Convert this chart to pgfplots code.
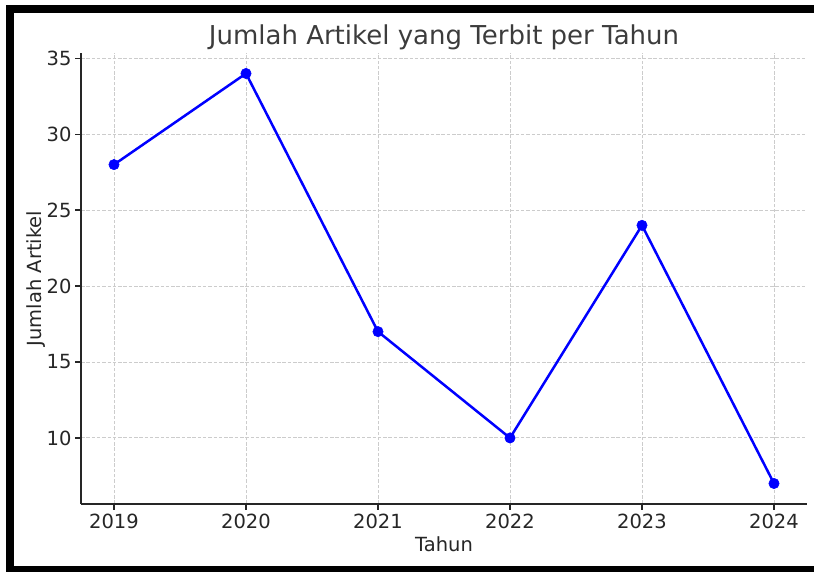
\documentclass[border=0pt]{standalone}
\usepackage{fontspec}
\setmainfont{DejaVu Sans}
\usepackage{pgfplots}
\pgfplotsset{compat=1.18}
\definecolor{txt}{gray}{0.15}
\definecolor{gridc}{gray}{0.8}
\begin{document}
\begin{tikzpicture}[x=1pt,y=1pt]
\begin{axis}[
  at={(81pt,68pt)}, anchor=south west,
  scale only axis, width=726pt, height=451pt,
  xmin=2018.75, xmax=2024.25, ymin=5.65, ymax=35.35,
  axis x line*=bottom, axis y line*=left,
  axis line style={txt, line width=1.4pt},
  tick align=outside, major tick length=6pt,
  tick style={txt, line width=1.4pt},
  xtick={2019,2020,2021,2022,2023,2024},
  ytick={10,15,20,25,30,35},
  xticklabel style={/pgf/number format/1000 sep={}},
  /pgf/number format/assume math mode=true,
  ticklabel style={font=\fontsize{19.5}{22}\selectfont, text=txt},
  grid=major,
  grid style={gridc, line width=0.9pt, dash pattern=on 3.5pt off 1.8pt},
  title={Jumlah Artikel yang Terbit per Tahun},
  title style={at={(axis description cs:0.5,1)}, anchor=base, yshift=2pt, font=\fontsize{26}{30}\selectfont, text=txt!90!white},
  xlabel={Tahun},
  xlabel style={at={(axis description cs:0.5,0)}, anchor=base, yshift=-47.7pt, font=\fontsize{19.5}{22}\selectfont, text=txt},
  ylabel={Jumlah Artikel},
  ylabel style={at={([xshift=-40pt]axis description cs:0,0.5)}, anchor=base, font=\fontsize{19.5}{22}\selectfont, text=txt},
]
\addplot[blue, line width=2.5pt, mark=*, mark size=5.2pt, mark options={solid, fill=blue, draw=blue, line width=0.5pt}]
  coordinates {(2019,28) (2020,34) (2021,17) (2022,10) (2023,24) (2024,7)};
\end{axis}
\fill[black] (6,0) rectangle (14,567);
\fill[black] (6,559) rectangle (814,567);
\fill[black] (6,0) rectangle (814,6);
\pgfresetboundingbox
\useasboundingbox (0,0) rectangle (814,572);
\end{tikzpicture}
\end{document}
